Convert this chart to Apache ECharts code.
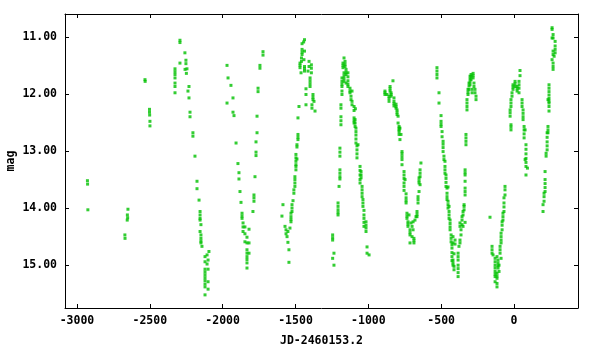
<!DOCTYPE html>
<html>
<head>
<meta charset="utf-8">
<script src="https://cdn.jsdelivr.net/npm/echarts@6/dist/echarts.min.js"></script>
<style>html,body{margin:0;padding:0;background:#fff;}#c{width:600px;height:350px;}</style>
</head>
<body>
<div id="c"></div>
<script>
// Axis setup
const xTicks = [-3000, -2500, -2000, -1500, -1000, -500, 0];
const yTicks = [11, 12, 13, 14, 15];
const xName = 'JD-2460153.2';
const yName = 'mag';

// Observations [JD-2460153.2, mag], grouped by season
const season1 = [[-2928,13.52],[-2927,13.58],[-2925,14.03],
[-2671,14.47],[-2670,14.53],[-2650,14.02],[-2654,14.12],[-2652,14.17],[-2655,14.21],
[-2533,11.75],[-2532,11.78],[-2502,12.27],[-2502,12.32],[-2501,12.37],[-2499,12.48],[-2499,12.56]];

const season2 = [[-2293,11.06],[-2293,11.10],[-2259,11.28],[-2293,11.46],[-2252,11.41],[-2252,11.47],
[-2327,11.56],[-2327,11.61],[-2327,11.66],[-2327,11.72],[-2258,11.57],[-2245,11.56],[-2249,11.64],
[-2327,11.81],[-2327,11.87],[-2327,11.98],[-2231,11.87],[-2238,11.95],[-2231,12.07],
[-2224,12.32],[-2224,12.40],[-2204,12.68],[-2204,12.74],[-2190,13.09],[-2176,13.53],[-2176,13.66],
[-2162,13.86],[-2155,14.06],[-2155,14.12],[-2155,14.18],[-2155,14.21],[-2149,14.29],[-2155,14.41],
[-2149,14.47],[-2149,14.53],[-2149,14.58],[-2149,14.61],[-2142,14.67],[-2094,14.76],[-2107,14.82],
[-2121,14.85],[-2100,14.91],[-2121,14.94],[-2107,14.98],[-2121,15.07],[-2121,15.12],[-2121,15.17],
[-2100,15.07],[-2121,15.22],[-2121,15.27],[-2121,15.33],[-2121,15.38],[-2100,15.29],[-2100,15.42],[-2121,15.52]];

const season3 = [[-1970,11.50],[-1963,11.72],[-1943,11.85],[-1929,12.07],[-1970,12.16],[-1929,12.32],
[-1922,12.38],[-1908,12.86],[-1895,13.22],[-1888,13.38],[-1888,13.49],[-1881,13.71],[-1874,13.90],
[-1867,14.09],[-1867,14.14],[-1867,14.18],[-1860,14.26],[-1860,14.33],[-1847,14.33],[-1819,14.37],
[-1860,14.41],[-1847,14.45],[-1833,14.51],[-1847,14.59],[-1833,14.61],[-1819,14.61],[-1833,14.73],
[-1833,14.79],[-1833,14.85],[-1833,14.90],[-1833,14.96],[-1819,14.79],[-1833,15.05],
[-1723,11.26],[-1723,11.32],[-1744,11.50],[-1744,11.55],[-1757,11.90],[-1757,11.96],[-1764,12.39],
[-1764,12.68],[-1771,12.84],[-1771,13.02],[-1771,13.08],[-1778,13.45],[-1785,13.77],[-1785,13.82],
[-1785,13.88],[-1792,14.06]];

const season4 = [[-1438,11.05],[-1444,11.09],[-1455,11.12],[-1455,11.22],[-1455,11.27],[-1455,11.31],
[-1438,11.25],[-1459,11.37],[-1459,11.43],[-1442,11.40],[-1469,11.46],[-1469,11.50],[-1469,11.54],
[-1438,11.52],[-1438,11.56],[-1438,11.60],[-1407,11.43],[-1407,11.52],[-1391,11.49],[-1391,11.55],
[-1391,11.63],[-1414,11.60],[-1462,11.63],[-1400,11.72],[-1400,11.77],[-1400,11.82],[-1400,11.87],
[-1428,11.91],[-1428,12.01],[-1380,12.01],[-1380,12.06],[-1380,12.10],[-1373,12.13],[-1387,12.19],
[-1387,12.25],[-1428,12.19],[-1476,12.22],[-1366,12.30],[-1483,12.42],[-1483,12.71],[-1483,12.76],
[-1483,12.80],[-1490,12.89],[-1490,12.93],[-1497,13.06],[-1497,13.12],[-1497,13.18],[-1497,13.24],
[-1497,13.27],[-1490,13.14],[-1497,13.33],[-1504,13.45],[-1504,13.50],[-1504,13.56],[-1504,13.62],
[-1511,13.68],[-1511,13.74],[-1517,13.87],[-1524,13.94],[-1524,14.00],[-1524,14.06],[-1586,13.94],
[-1531,14.09],[-1531,14.15],[-1531,14.20],[-1531,14.24],[-1593,14.14],[-1538,14.35],[-1572,14.32],
[-1565,14.38],[-1565,14.45],[-1552,14.41],[-1558,14.50],[-1552,14.60],[-1545,14.73],[-1545,14.95]];

const season5 = [[-1245,14.47],[-1245,14.52],[-1245,14.56],[-1236,14.79],[-1245,14.88],[-1236,15.00],
[-1208,13.91],[-1208,13.97],[-1208,14.03],[-1208,14.08],[-1208,14.12],[-1201,13.62],[-1195,13.33],
[-1195,13.39],[-1195,13.45],[-1195,13.49],[-1195,12.95],[-1195,13.02],[-1195,13.09],[-1188,12.40],
[-1188,12.47],[-1188,12.54],[-1188,12.19],[-1188,12.25],[-1181,11.95],[-1181,12.01],[-1181,11.72],
[-1181,11.78],[-1181,11.83],[-1181,11.87],[-1174,11.46],[-1174,11.50],[-1174,11.54],[-1167,11.37],
[-1160,11.43],[-1160,11.48],[-1160,11.52],[-1167,11.63],[-1167,11.68],[-1167,11.73],[-1167,11.78],
[-1153,11.57],[-1153,11.62],[-1153,11.66],[-1140,11.63],[-1140,11.70],[-1140,11.77],[-1140,11.83],
[-1140,11.87],[-1153,11.81],[-1126,11.90],[-1126,11.95],[-1126,11.98],[-1112,11.95],[-1119,12.04],
[-1119,12.10],[-1112,12.13],[-1112,12.19],[-1098,12.22],[-1098,12.29],[-1089,12.26],[-1098,12.42],
[-1098,12.47],[-1098,12.51],[-1091,12.45],[-1091,12.51],[-1091,12.57],[-1085,12.60],[-1085,12.66],
[-1085,12.72],[-1085,12.79],[-1085,12.86],[-1078,12.91],[-1071,12.89],[-1078,12.98],[-1078,13.05],
[-1078,13.12],[-1057,13.27],[-1057,13.34],[-1057,13.42],[-1057,13.50],[-1050,13.36],[-1050,13.42],
[-1050,13.47],[-1057,13.56],[-1043,13.62],[-1043,13.68],[-1043,13.74],[-1043,13.80],[-1037,13.85],
[-1037,13.91],[-1037,13.97],[-1030,14.04],[-1030,14.12],[-1030,14.18],[-1030,14.25],[-1030,14.32],
[-1016,14.24],[-1016,14.30],[-1016,14.35],[-1016,14.41],[-1009,14.68],[-1009,14.79],[-995,14.82]];

const season6 = [[-831,11.77],[-851,11.87],[-851,11.91],[-851,11.95],[-886,11.95],[-886,11.98],
[-886,12.01],[-872,12.01],[-844,11.98],[-844,12.01],[-844,12.04],[-858,12.04],[-858,12.08],
[-858,12.13],[-824,12.07],[-824,12.13],[-824,12.17],[-824,12.21],[-810,12.18],[-810,12.22],
[-810,12.25],[-803,12.28],[-803,12.32],[-803,12.36],[-796,12.39],[-796,12.51],[-789,12.57],
[-789,12.60],[-789,12.63],[-783,12.60],[-789,12.66],[-789,12.71],[-776,12.71],[-783,12.80],
[-769,13.01],[-769,13.05],[-769,13.10],[-769,13.15],[-769,13.24],[-755,13.36],[-755,13.42],
[-755,13.48],[-755,13.56],[-748,13.50],[-755,13.62],[-755,13.69],[-741,13.75],[-741,13.82],
[-741,13.87],[-741,13.91],[-735,14.09],[-735,14.14],[-735,14.18],[-721,14.12],[-728,14.24],
[-728,14.28],[-728,14.32],[-707,14.26],[-693,14.24],[-680,14.21],[-673,14.15],[-700,14.32],
[-714,14.38],[-714,14.43],[-714,14.47],[-693,14.38],[-700,14.50],[-687,14.53],[-687,14.57],
[-687,14.61],[-714,14.61],[-666,14.06],[-666,14.11],[-666,14.15],[-659,13.91],[-659,13.80],
[-659,13.85],[-652,13.71],[-645,13.59],[-652,13.47],[-652,13.52],[-652,13.56],[-645,13.33],
[-645,13.39],[-645,13.45],[-639,13.21]];

const season7 = [[-529,11.54],[-529,11.60],[-529,11.66],[-529,11.72],[-515,11.98],[-515,12.16],
[-501,12.38],[-501,12.48],[-501,12.53],[-501,12.57],[-494,12.66],[-494,12.75],[-487,12.83],
[-487,12.88],[-487,12.94],[-487,13.01],[-481,13.09],[-481,13.15],[-474,13.18],[-474,13.27],
[-474,13.33],[-474,13.39],[-467,13.42],[-467,13.48],[-467,13.55],[-467,13.62],[-460,13.65],
[-453,13.63],[-460,13.74],[-460,13.80],[-460,13.85],[-453,13.88],[-453,13.94],[-453,14.00],
[-446,13.97],[-446,14.06],[-446,14.12],[-446,14.18],[-439,14.21],[-439,14.27],[-439,14.33],
[-439,14.38],[-432,14.47],[-432,14.53],[-432,14.59],[-419,14.50],[-405,14.56],[-419,14.61],
[-426,14.64],[-426,14.70],[-405,14.63],[-426,14.78],[-426,14.85],[-412,14.80],[-419,14.91],
[-419,14.96],[-419,15.00],[-426,14.92],[-412,15.02],[-412,15.08],[-384,15.00],[-384,15.06],
[-384,15.13],[-384,15.20],[-384,14.79],[-384,14.85],[-384,14.91],[-378,14.67],[-371,14.56],
[-371,14.61],[-364,14.47],[-364,14.38],[-357,14.29],[-371,14.26],[-371,14.32],[-350,14.32],
[-357,14.15],[-357,14.21],[-350,14.06],[-350,14.12],[-343,13.97],[-343,14.03],[-336,14.25],
[-343,13.94],[-336,13.65],[-336,13.71],[-336,13.77],[-336,13.53],[-336,13.33],[-336,13.38],
[-336,13.42],[-330,12.71],[-330,12.77],[-330,12.83],[-330,12.89],[-323,12.10],[-323,12.16],
[-323,12.22],[-323,12.28],[-316,11.92],[-316,11.97],[-316,12.01],[-309,11.81],[-309,11.86],
[-309,11.92],[-302,11.69],[-302,11.74],[-302,11.79],[-302,11.84],[-295,11.66],[-295,11.70],
[-295,11.75],[-281,11.64],[-281,11.68],[-281,11.72],[-288,11.92],[-288,11.98],[-268,11.92],
[-268,11.98],[-261,12.04],[-261,12.10],[-275,11.81],[-275,11.87]];

const season8 = [[-165,14.16],[-151,14.67],[-151,14.73],[-151,14.79],[-144,14.82],[-130,14.88],
[-117,14.85],[-89,14.88],[-130,14.94],[-130,15.00],[-130,15.05],[-110,14.91],[-110,14.96],
[-110,15.01],[-110,15.05],[-103,15.00],[-130,15.11],[-130,15.16],[-130,15.20],[-117,15.14],
[-117,15.19],[-117,15.23],[-103,15.11],[-130,15.29],[-117,15.32],[-117,15.38],[-96,14.67],
[-96,14.73],[-96,14.79],[-89,14.44],[-89,14.50],[-89,14.56],[-89,14.61],[-82,14.24],[-82,14.30],
[-82,14.38],[-76,14.09],[-76,14.15],[-76,14.21],[-69,13.91],[-69,13.98],[-69,14.06],[-69,13.82],
[-62,13.77],[-62,13.62],[-62,13.68],[-27,12.28],[-27,12.33],[-27,12.39],[-21,12.54],[-21,12.58],
[-21,12.63],[-21,12.10],[-21,12.16],[-21,12.22],[-14,11.98],[-14,12.04],[-7,11.84],[-7,11.88],
[-7,11.92],[7,11.78],[7,11.82],[7,11.87],[21,11.87],[21,11.91],[21,11.95],[34,11.78],[34,11.84],
[34,11.90],[34,11.98],[41,11.68],[41,11.59],[55,12.10],[55,12.16],[55,12.22],[62,12.28],[62,12.34],
[62,12.40],[62,12.45],[69,12.57],[69,12.63],[69,12.70],[69,12.77],[76,12.63],[82,12.89],[82,12.97],
[82,13.05],[82,13.13],[82,13.20],[82,13.27],[76,13.15],[82,13.42],[92,13.30]];

const season9 = [[199,14.06],[199,13.94],[206,13.74],[206,13.80],[206,13.88],[213,13.50],[213,13.57],
[213,13.64],[213,13.71],[213,13.36],[220,13.04],[220,13.09],[227,12.68],[227,12.76],[227,12.84],
[227,12.91],[227,12.98],[233,12.57],[233,12.63],[233,12.68],[240,12.30],[240,12.16],[240,12.22],
[233,12.10],[240,11.84],[240,11.90],[240,11.96],[240,12.02],[240,12.08],[240,12.13],[268,11.46],
[268,11.52],[268,11.57],[261,11.40],[275,11.34],[282,11.16],[282,11.22],[282,11.28],[268,11.25],
[268,11.31],[282,11.08],[268,10.96],[268,11.02],[261,10.84],[261,10.87],[261,11.02]];

const allPoints = [].concat(season1, season2, season3, season4, season5, season6, season7, season8, season9);

const font = { fontFamily: 'DejaVu Sans Mono', fontWeight: 'bold', fontSize: 11.5, color: '#000' };
const xMin = -3082, xMax = 439, yMin = 10.6, yMax = 15.75;

function xAx(primary) {
  return {
    type: 'value', position: primary ? 'bottom' : 'top', min: xMin, max: xMax,
    axisLine: { show: true, onZero: false, lineStyle: { color: '#000', width: 1 } },
    axisTick: { show: true, inside: true, length: 4, customValues: xTicks, lineStyle: { color: '#000' } },
    axisLabel: primary ? Object.assign({ show: true, margin: 7, customValues: xTicks, formatter: v => String(v) }, font) : { show: false },
    splitLine: { show: false },
    name: primary ? xName : '', nameLocation: 'middle', nameGap: 27, nameMoveOverlap: false,
    nameTextStyle: font
  };
}
function yAx(primary) {
  return {
    type: 'value', position: primary ? 'left' : 'right', min: yMin, max: yMax, inverse: true,
    axisLine: { show: true, onZero: false, lineStyle: { color: '#000', width: 1 } },
    axisTick: { show: true, inside: true, length: 4, customValues: yTicks, lineStyle: { color: '#000' } },
    axisLabel: primary ? Object.assign({ show: true, margin: 8, customValues: yTicks, formatter: v => v.toFixed(2) }, font) : { show: false },
    splitLine: { show: false },
    name: primary ? yName : '', nameLocation: 'middle', nameGap: 48, nameMoveOverlap: false,
    nameTextStyle: font
  };
}

const chart = echarts.init(document.getElementById('c'), null, { renderer: 'canvas' });
chart.setOption({
  animation: false,
  backgroundColor: '#fff',
  grid: { left: 65, right: 22, top: 14, bottom: 42, containLabel: false, outerBoundsMode: 'none' },
  xAxis: [xAx(true), xAx(false)],
  yAxis: [yAx(true), yAx(false)],
  series: [{
    type: 'scatter', xAxisIndex: 0, yAxisIndex: 0,
    symbol: 'rect', symbolSize: 3,
    itemStyle: { color: '#00c000' },
    data: allPoints
  }]
});
</script>
</body>
</html>
